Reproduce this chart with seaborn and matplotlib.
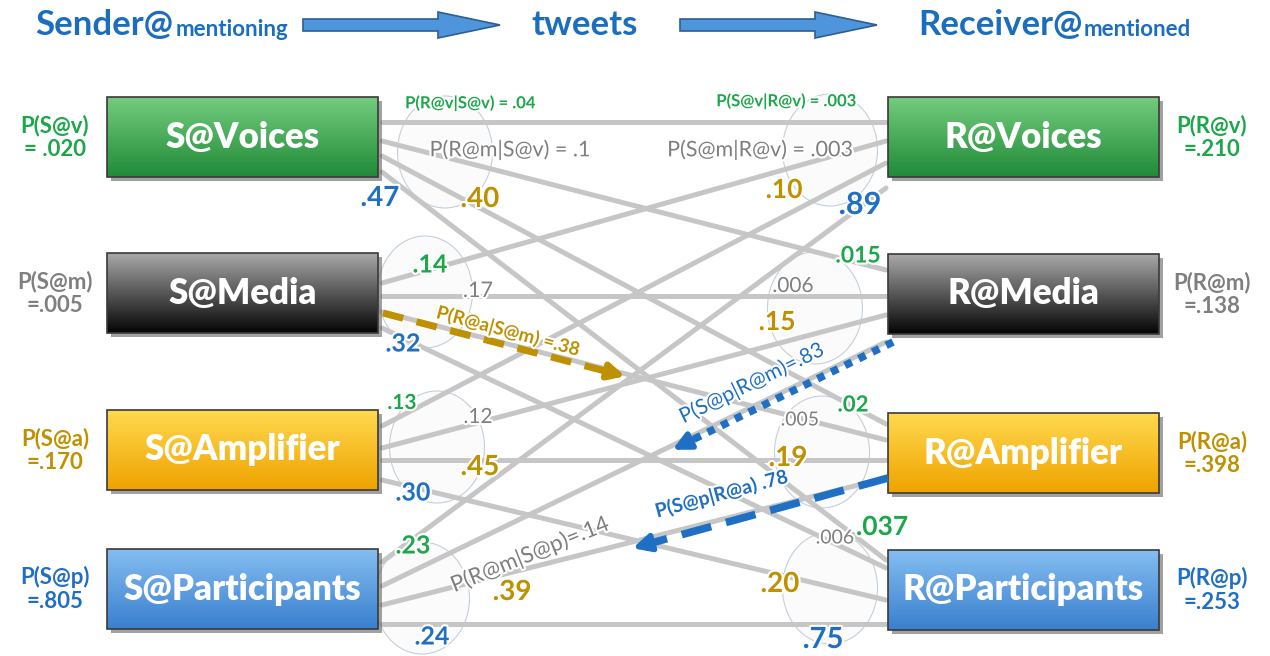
import numpy as np
import pandas as pd
import matplotlib
matplotlib.use("Agg")
import matplotlib.pyplot as plt
import matplotlib.patheffects as pe
from matplotlib.patches import FancyArrow, Ellipse, Rectangle
import seaborn as sns

# --- data ----------------------------------------------------------------
roles = ["v", "m", "a", "p"]
sender_names = ["S@Voices", "S@Media", "S@Amplifier", "S@Participants"]
receiver_names = ["R@Voices", "R@Media", "R@Amplifier", "R@Participants"]
sender_probs = [".020", ".005", ".170", ".805"]
receiver_probs = [".210", ".138", ".398", ".253"]

# P(R@col | S@row): rows = sender role, cols = receiver role
r_given_s = [
    [".04", ".1", ".40", ".47"],
    [".14", ".17", ".38", ".32"],
    [".13", ".12", ".45", ".30"],
    [".23", ".14", ".39", ".24"],
]
# P(S@col | R@row): rows = receiver role, cols = sender role
s_given_r = [
    [".003", ".003", ".10", ".89"],
    [".015", ".006", ".15", ".83"],
    [".02", ".005", ".19", ".78"],
    [".037", ".006", ".20", ".75"],
]

# --- layout / style ------------------------------------------------------
W, H = 1270, 656
role_colors = {"v": "#1da64a", "m": "#7f7f7f", "a": "#bf9000", "p": "#1f6fc4"}
box_grad = {
    "v": ("#74cc7e", "#1f8b38"),
    "m": ("#a8a8a8", "#050505"),
    "a": ("#ffd94e", "#efa300"),
    "p": ("#84bdf0", "#3a80cf"),
}
left_box = (107, 378)
right_box = (888, 1159)
sender_tops = [97, 253, 410, 549]
receiver_tops = [97, 254, 413, 550]
box_h = 80
# where each edge leaves the sender box / enters the receiver box
start_y = [[122, 141, 156, 172], [283, 296, 312, 328],
           [426, 448, 460, 480], [562, 586, 605, 624]]
end_y = [[122, 141, 163, 188], [270, 296, 315, 342],
         [424, 440, 460, 478], [560, 568, 600, 624]]

# label placement: (x, y, size, bold, rotation, long)
left_lab = [
    [(470, 103, 12, True, 0, True), (510, 150, 15.5, False, 0, True),
     (480, 199, 20, True, 0, False), (380, 198, 20, True, 0, False)],
    [(430, 265, 18, True, 0, False), (478, 291, 15.5, False, 0, False),
     (508, 331, 13.5, True, -15, True), (403, 344, 18, True, 0, False)],
    [(402, 403, 15, True, 0, False), (478, 417, 15, False, 0, False),
     (480, 467, 20, True, 0, False), (413, 493, 18, True, 0, False)],
    [(413, 546, 18, True, 0, False), (530, 555, 16, False, 22, True),
     (512, 592, 20, True, 0, False), (432, 637, 18, True, 0, False)],
]
right_lab = [
    [(786, 101, 12, True, 0, True), (760, 150, 15.5, False, 0, True),
     (784, 190, 19, True, 0, False), (860, 205, 22, True, 0, False)],
    [(858, 256, 16.5, True, 0, False), (793, 286, 15, False, 0, False),
     (777, 322, 19, True, 0, False), (752, 383, 15, False, 26, True)],
    [(853, 405, 16, True, 0, False), (800, 420, 14, False, 0, False),
     (788, 458, 20, True, 0, False), (722, 494, 14, True, 15, True)],
    [(882, 527, 19, True, 0, False), (835, 538, 14, False, 0, False),
     (780, 584, 20, True, 0, False), (823, 640, 21, True, 0, False)],
]
long_fmt = {
    ("L", 0, 0): "P(R@v|S@v) = {}", ("L", 0, 1): "P(R@m|S@v) = {}",
    ("L", 1, 2): "P(R@a|S@m) ={}", ("L", 3, 1): "P(R@m|S@p)={}",
    ("R", 0, 0): "P(S@v|R@v) = {}", ("R", 0, 1): "P(S@m|R@v) = {}",
    ("R", 1, 3): "P(S@p|R@m)={}", ("R", 2, 3): "P(S@p|R@a) {}",
}
arcs_left = [(445, 152), (425, 292), (437, 447), (422, 598)]
arcs_right = [(830, 150), (815, 308), (822, 452), (830, 588)]

sns.set_theme(style="white")
plt.rcParams["font.family"] = ["Lato", "DejaVu Sans"]
halo = [pe.withStroke(linewidth=3, foreground="white")]

fig = plt.figure(figsize=(W / 100, H / 100), dpi=100)
ax = fig.add_axes([0, 0, 1, 1])

# faint teardrop outlines around label clusters
for cx, cy in arcs_left + arcs_right:
    ax.add_patch(Ellipse((cx, cy), 95, 112, fc="#fbfbfb", ec="#c3d0dc",
                         lw=0.8, zorder=0))

# gray edges sender -> receiver, drawn through seaborn
rows = []
for i in range(4):
    for k in range(4):
        rows.append({"edge": f"{i}{k}", "x": left_box[1] + 4, "y": start_y[i][k]})
        rows.append({"edge": f"{i}{k}", "x": right_box[0] - 2, "y": end_y[k][i]})
edges = pd.DataFrame(rows)
sns.lineplot(data=edges, x="x", y="y", units="edge", estimator=None, sort=False,
             color="#c6c6c6", lw=3.6, ax=ax, legend=False, zorder=1)


def draw_box(x0, x1, top, role, label):
    c0, c1 = box_grad[role]
    grad = np.linspace(0, 1, 64)[:, None, None]
    a = np.array(matplotlib.colors.to_rgb(c0))
    b = np.array(matplotlib.colors.to_rgb(c1))
    img = a * (1 - grad) + b * grad
    ax.add_patch(Rectangle((x0 + 4, top + 4), x1 - x0, box_h, fc="#555555",
                           alpha=0.55, ec="none", zorder=3))
    ax.imshow(img, extent=(x0, x1, top + box_h, top), aspect="auto", zorder=4)
    ax.add_patch(Rectangle((x0, top), x1 - x0, box_h, fc="none", ec="#3a3a3a",
                           lw=1.2, zorder=5))
    ax.text((x0 + x1) / 2, top + box_h / 2, label, color="white", fontsize=25,
            fontweight="heavy", ha="center", va="center", zorder=6)


for i, r in enumerate(roles):
    draw_box(*left_box, sender_tops[i], r, sender_names[i])
    draw_box(*right_box, receiver_tops[i], r, receiver_names[i])
    ax.text(55, sender_tops[i] + 40, f"P(S@{r})\n={sender_probs[i]}" if i else
            f"P(S@{r})\n= {sender_probs[i]}", color=role_colors[r], fontsize=16,
            fontweight="bold", ha="center", va="center", linespacing=1.15)
    ax.text(1212, receiver_tops[i] + 40, f"P(R@{r})\n={receiver_probs[i]}",
            color=role_colors[r], fontsize=16, fontweight="bold",
            ha="center", va="center", linespacing=1.15)


def put(side, i, j, val, spec, color):
    x, y, size, bold, rot, long = spec
    txt = long_fmt[(side, i, j)].format(val) if long else val
    ax.text(x, y, txt, color=color, fontsize=size,
            fontweight="bold" if bold else "normal", rotation=rot,
            rotation_mode="anchor", ha="center", va="center", zorder=7,
            path_effects=halo)


for i in range(4):
    for k in range(4):
        put("L", i, k, r_given_s[i][k], left_lab[i][k], role_colors[roles[k]])
        put("R", i, k, s_given_r[i][k], right_lab[i][k], role_colors[roles[k]])

# highlighted arrows
gold, blue = role_colors["a"], role_colors["p"]
ax.plot([383, 605], [313, 371], color=gold, lw=5, ls=(0, (3, 2)),
        solid_capstyle="butt", zorder=6)
ax.annotate("", xy=(628, 377), xytext=(598, 369),
            arrowprops=dict(arrowstyle="-|>", color=gold, lw=4.5,
                            mutation_scale=24), zorder=6)
ax.plot([893, 690], [342, 441], color=blue, lw=5.5, ls=(0, (1, 1)), zorder=6)
ax.annotate("", xy=(670, 451), xytext=(700, 436),
            arrowprops=dict(arrowstyle="-|>", color=blue, lw=4,
                            mutation_scale=26), zorder=6)
ax.plot([888, 655], [478, 542], color=blue, lw=5.5, ls=(0, (4, 2)), zorder=6)
ax.annotate("", xy=(630, 549), xytext=(665, 539),
            arrowprops=dict(arrowstyle="-|>", color=blue, lw=4,
                            mutation_scale=26), zorder=6)

# header
hdr = "#1b6ebf"
ax.text(35, 25, "Sender@", color=hdr, fontsize=25, fontweight="bold",
        ha="left", va="center")
ax.text(176, 29, "mentioning", color=hdr, fontsize=16, fontweight="bold",
        ha="left", va="center")
ax.text(585, 25, "tweets", color=hdr, fontsize=25, fontweight="bold",
        ha="center", va="center")
ax.text(918, 25, "Receiver@", color=hdr, fontsize=25, fontweight="bold",
        ha="left", va="center")
ax.text(1084, 29, "mentioned", color=hdr, fontsize=16, fontweight="bold",
        ha="left", va="center")
for x0 in (303, 680):
    ax.add_patch(FancyArrow(x0, 25, 197, 0, width=12, head_width=26,
                            head_length=62, length_includes_head=True,
                            fc="#4e95db", ec="#2c5f93", lw=1.2))

ax.set_xlim(0, W)
ax.set_ylim(H, 0)
ax.axis("off")
fig.savefig("out.png", dpi=100, facecolor="white")
